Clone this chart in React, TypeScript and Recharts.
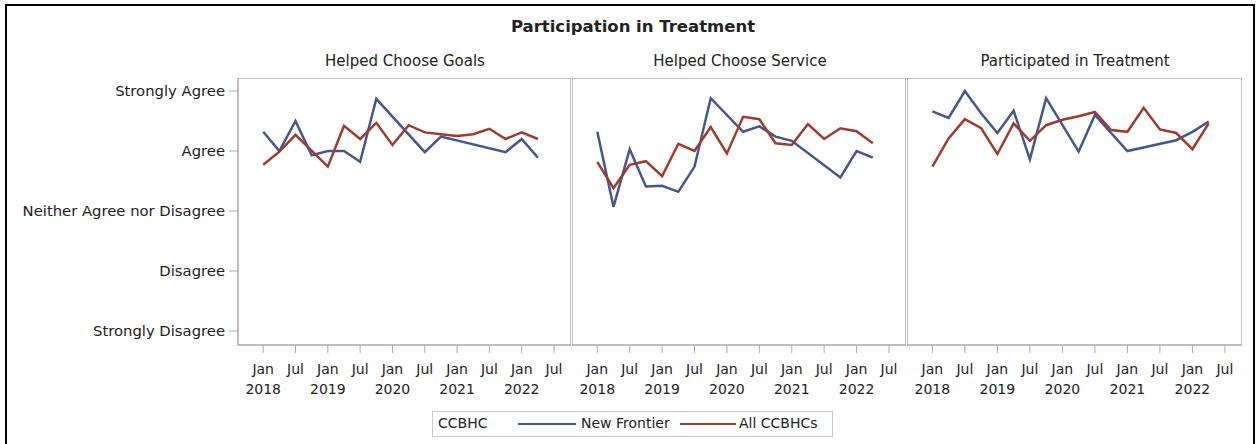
import React from "react";
import { LineChart, Line, XAxis, YAxis, ReferenceArea } from "recharts";

// months since Jan 2018, one point per quarter
const months = [0, 3, 6, 9, 12, 15, 18, 21, 24, 27, 30, 33, 36, 39, 42, 45, 48, 51];
const monthTicks = [0, 6, 12, 18, 24, 30, 36, 42, 48, 54];
const levelTicks = [1, 2, 3, 4, 5];
const levelLabels = ["Strongly Disagree", "Disagree", "Neither Agree nor Disagree", "Agree", "Strongly Agree"];
const panelTitles = ["Helped Choose Goals", "Helped Choose Service", "Participated in Treatment"];
const seriesNames = ["New Frontier", "All CCBHCs"];

const goalsNF = [4.32, 4.0, 4.5, 3.93, 4.0, 4.0, 3.82, 4.87, null, null, 3.98, 4.24, null, null, null, 3.98, 4.2, 3.89];
const goalsAll = [3.77, 3.99, 4.27, null, 3.74, 4.42, 4.2, 4.47, 4.1, 4.43, 4.31, 4.28, 4.25, 4.28, 4.37, 4.2, 4.31, 4.2];
const serviceNF = [4.32, 3.07, 4.03, 3.41, 3.42, 3.32, 3.74, 4.88, null, 4.32, 4.41, 4.24, 4.17, null, null, 3.56, 4.0, 3.89];
const serviceAll = [3.82, 3.38, 3.77, 3.83, 3.58, 4.12, 4.0, 4.4, 3.96, 4.57, 4.53, 4.13, 4.1, 4.45, 4.2, 4.38, 4.33, 4.13];
const treatNF = [4.66, 4.55, 5.0, 4.63, 4.3, 4.67, 3.86, 4.88, null, 3.99, 4.6, null, 4.0, null, null, 4.18, 4.32, 4.49];
const treatAll = [3.74, 4.21, 4.53, 4.38, 3.95, 4.46, 4.17, 4.43, 4.52, 4.58, 4.65, 4.35, 4.32, 4.72, 4.36, 4.3, 4.03, 4.46];

const panelSeries = [
  [goalsNF, goalsAll],
  [serviceNF, serviceAll],
  [treatNF, treatAll],
];

const BLUE = "#445694";
const RED = "#A23A2E";
const FRAME = "#aaaaaa";
const FONT = "'DejaVu Sans', Verdana, sans-serif";

const xMin = -4.68;
const xMax = 57.15;
const yMin = 0.7667;
const yMax = 5.2167;

function MonthTick({ x, y, payload }: any) {
  const v = payload.value;
  const isJan = v % 12 === 0;
  return (
    <text x={x} y={y} textAnchor="middle" fontFamily={FONT} fontSize={14} fill="#222">
      <tspan x={x} dy={21}>{isJan ? "Jan" : "Jul"}</tspan>
      {isJan && (
        <tspan x={x} dy={20}>
          {2018 + v / 12}
        </tspan>
      )}
    </text>
  );
}

function Panel({ index, left, width, showY }: { index: number; left: number; width: number; showY: boolean }) {
  const [nf, all] = panelSeries[index];
  const rows = months.map((m, i) => ({ m, nf: nf[i], all: all[i] }));
  return (
    <div style={{ position: "absolute", left, top: 78 }}>
      <LineChart
        width={width}
        height={327}
        data={rows}
        margin={{ top: 0, right: 0, bottom: 0, left: 0 }}
        style={{ overflow: "visible" }}
      >
        <XAxis
          dataKey="m"
          type="number"
          domain={[xMin, xMax]}
          ticks={monthTicks}
          allowDataOverflow
          height={60}
          tickSize={8}
          tickMargin={0}
          axisLine={false}
          tickLine={{ stroke: FRAME }}
          tick={<MonthTick />}
          interval={0}
        />
        <YAxis
          type="number"
          domain={[yMin, yMax]}
          ticks={levelTicks}
          allowDataOverflow
          hide={!showY}
          width={showY ? 238 : 0}
          tickSize={9}
          tickMargin={4}
          axisLine={false}
          tickLine={{ stroke: FRAME }}
          tick={{ fontFamily: FONT, fontSize: 14.8, fill: "#222" }}
          tickFormatter={(v: number) => levelLabels[v - 1]}
          interval={0}
        />
        <ReferenceArea
          x1={xMin}
          x2={xMax}
          y1={yMin}
          y2={yMax}
          fill="#fff"
          fillOpacity={0}
          stroke={FRAME}
          strokeWidth={1.5}
          ifOverflow="visible"
        />
        <Line
          dataKey="nf"
          name={seriesNames[0]}
          stroke={BLUE}
          strokeWidth={2.5}
          dot={false}
          connectNulls
          isAnimationActive={false}
        />
        <Line
          dataKey="all"
          name={seriesNames[1]}
          stroke={RED}
          strokeWidth={2.5}
          dot={false}
          connectNulls
          isAnimationActive={false}
        />
      </LineChart>
    </div>
  );
}

const headerCenters = [405, 740, 1075];

export default function App() {
  return (
    <div
      style={{
        position: "absolute",
        left: 0,
        top: 0,
        width: 1257,
        height: 444,
        overflow: "hidden",
        background: "#fff",
        fontFamily: FONT,
        color: "#222",
      }}
    >
      <div
        style={{
          position: "absolute",
          left: 5,
          top: 4,
          width: 1246,
          height: 470,
          border: "2px solid #000",
        }}
      />
      <div
        style={{
          position: "absolute",
          left: 333,
          width: 600,
          top: 17,
          textAlign: "center",
          fontWeight: "bold",
          fontSize: 16.5,
        }}
      >
        Participation in Treatment
      </div>
      {panelTitles.map((t, i) => (
        <div
          key={t}
          style={{
            position: "absolute",
            left: headerCenters[i] - 150,
            width: 300,
            top: 52,
            textAlign: "center",
            fontSize: 15,
          }}
        >
          {t}
        </div>
      ))}
      <Panel index={0} left={0} width={571} showY />
      <Panel index={1} left={572} width={334} showY={false} />
      <Panel index={2} left={907} width={335} showY={false} />
      <div
        style={{
          position: "absolute",
          left: 432,
          top: 411,
          width: 399,
          height: 24,
          border: "1px solid #c8c8c8",
          fontSize: 14,
        }}
      >
        <span style={{ position: "absolute", left: 5, top: 3 }}>CCBHC</span>
        <span style={{ position: "absolute", left: 85, top: 11, width: 58, height: 2, background: BLUE }} />
        <span style={{ position: "absolute", left: 148, top: 3 }}>{seriesNames[0]}</span>
        <span style={{ position: "absolute", left: 247, top: 11, width: 56, height: 2, background: RED }} />
        <span style={{ position: "absolute", left: 306, top: 3 }}>{seriesNames[1]}</span>
      </div>
    </div>
  );
}
